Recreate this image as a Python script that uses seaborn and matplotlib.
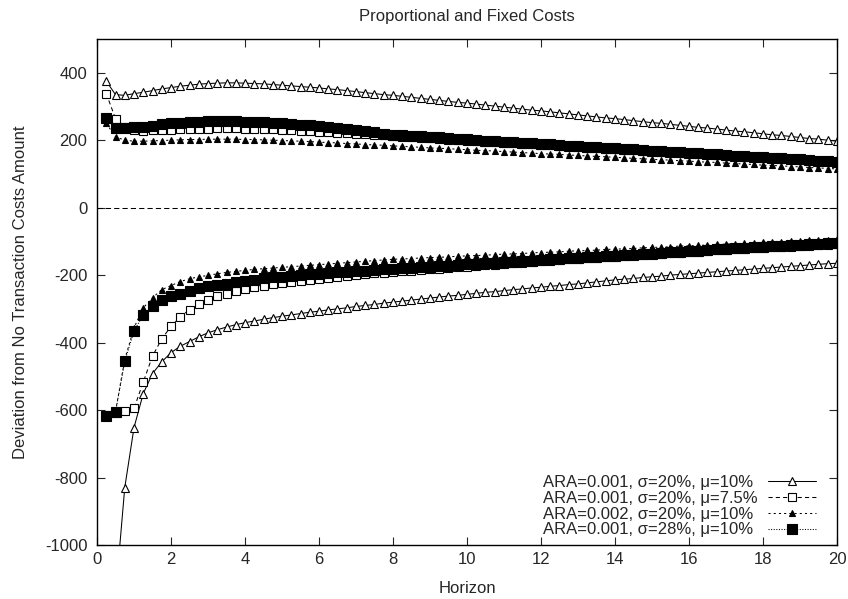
import numpy as np
import pandas as pd
import matplotlib
matplotlib.use("Agg")
import matplotlib.pyplot as plt
import seaborn as sns
from matplotlib.lines import Line2D

# horizon grid (years)
horizon = [0.25, 0.5, 0.75, 1.0, 1.25, 1.5, 1.75, 2.0, 2.25, 2.5, 2.75, 3.0, 3.25, 3.5, 3.75, 4.0,
           4.25, 4.5, 4.75, 5.0, 5.25, 5.5, 5.75, 6.0, 6.25, 6.5, 6.75, 7.0, 7.25, 7.5, 7.75, 8.0,
           8.25, 8.5, 8.75, 9.0, 9.25, 9.5, 9.75, 10.0, 10.25, 10.5, 10.75, 11.0, 11.25, 11.5, 11.75, 12.0,
           12.25, 12.5, 12.75, 13.0, 13.25, 13.5, 13.75, 14.0, 14.25, 14.5, 14.75, 15.0, 15.25, 15.5, 15.75, 16.0,
           16.25, 16.5, 16.75, 17.0, 17.25, 17.5, 17.75, 18.0, 18.25, 18.5, 18.75, 19.0, 19.25, 19.5, 19.75, 20.0]

# ARA=0.001, sigma=20%, mu=10%
upper_1 = [375, 335, 333, 338, 342, 347, 352, 356, 360, 363, 366, 368, 369, 370, 370, 369,
           368, 367, 365, 363, 361, 359, 357, 355, 352, 350, 347, 344, 341, 338, 335, 333,
           330, 327, 324, 321, 318, 315, 312, 310, 307, 304, 301, 298, 295, 292, 289, 287,
           284, 281, 278, 275, 272, 269, 266, 264, 261, 258, 255, 252, 250, 247, 244, 241,
           238, 236, 233, 230, 227, 225, 222, 219, 216, 214, 211, 208, 205, 203, 200, 197]
lower_1 = [-1700, -1150, -830, -652, -551, -492, -457, -430, -411, -397, -383, -371, -362, -354, -347, -341,
           -336, -331, -326, -322, -318, -314, -310, -307, -303, -300, -297, -293, -290, -287, -283, -280,
           -277, -274, -271, -268, -265, -262, -260, -257, -254, -251, -249, -246, -243, -241, -238, -236,
           -233, -231, -228, -226, -223, -220, -217, -214, -212, -210, -207, -205, -203, -200, -198, -196,
           -194, -192, -190, -188, -186, -184, -182, -180, -178, -176, -174, -172, -170, -168, -166, -165]

# ARA=0.001, sigma=20%, mu=7.5%
upper_2 = [338, 264, 240, 229, 228, 229, 230, 231, 232, 233, 234, 234, 235, 235, 235, 234,
           234, 233, 232, 231, 230, 228, 227, 225, 223, 222, 220, 218, 217, 215, 214, 212,
           210, 209, 207, 206, 204, 202, 201, 199, 198, 196, 194, 193, 191, 190, 188, 186,
           185, 183, 182, 180, 178, 177, 175, 174, 172, 170, 169, 167, 166, 164, 162, 161,
           159, 158, 156, 154, 153, 151, 150, 148, 146, 145, 143, 142, 140, 138, 137, 135]
lower_2 = [-615, -608, -602, -595, -517, -440, -389, -352, -324, -302, -285, -273, -263, -255, -248, -241,
           -236, -231, -226, -222, -219, -216, -214, -211, -208, -205, -202, -200, -197, -195, -193, -191,
           -189, -187, -185, -183, -181, -179, -177, -175, -173, -171, -169, -167, -165, -163, -161, -159,
           -157, -155, -153, -152, -150, -148, -146, -145, -143, -141, -140, -138, -136, -135, -133, -132,
           -130, -129, -127, -126, -124, -123, -121, -120, -118, -117, -116, -114, -113, -111, -110, -109]

# ARA=0.002, sigma=20%, mu=10%
upper_3 = [250, 210, 200, 197, 197, 198, 199, 200, 201, 202, 202, 203, 203, 203, 203, 202,
           202, 201, 200, 199, 198, 197, 196, 194, 193, 192, 190, 189, 187, 186, 185, 183,
           182, 180, 179, 177, 176, 175, 173, 172, 170, 169, 168, 166, 165, 163, 162, 160,
           159, 158, 156, 155, 153, 152, 151, 149, 148, 146, 145, 143, 142, 141, 139, 138,
           136, 135, 134, 132, 131, 129, 128, 126, 125, 124, 122, 121, 119, 118, 116, 115]
lower_3 = [-615, -604, -450, -356, -297, -267, -243, -231, -219, -211, -205, -201, -196, -192, -189, -186,
           -183, -181, -179, -177, -175, -173, -171, -169, -167, -165, -163, -161, -159, -157, -155, -153,
           -152, -151, -149, -148, -147, -146, -144, -143, -142, -141, -139, -138, -137, -136, -134, -133,
           -132, -131, -129, -128, -127, -126, -124, -123, -122, -121, -119, -118, -117, -116, -114, -113,
           -112, -111, -109, -108, -107, -106, -104, -103, -102, -101, -99, -98, -97, -96, -95, -94]

# ARA=0.001, sigma=28%, mu=10%
upper_4 = [265, 236, 236, 238, 240, 243, 247, 250, 252, 254, 255, 256, 256, 256, 256, 255,
           254, 253, 251, 250, 248, 246, 244, 242, 239, 236, 232, 229, 226, 223, 219, 216,
           214, 213, 211, 209, 208, 206, 204, 203, 201, 199, 198, 196, 194, 193, 191, 189,
           188, 186, 184, 183, 181, 179, 178, 176, 174, 173, 171, 169, 168, 166, 164, 163,
           161, 159, 158, 156, 154, 153, 151, 149, 148, 146, 144, 143, 141, 139, 138, 136]
lower_4 = [-617, -606, -455, -366, -317, -292, -275, -263, -255, -246, -239, -233, -229, -225, -220, -216,
           -213, -210, -207, -205, -202, -200, -198, -196, -194, -192, -190, -188, -187, -185, -183, -182,
           -180, -178, -177, -175, -173, -172, -170, -168, -167, -165, -163, -162, -160, -158, -157, -155,
           -153, -152, -150, -148, -147, -145, -144, -142, -140, -139, -137, -136, -134, -132, -131, -129,
           -128, -126, -124, -123, -121, -120, -118, -117, -115, -113, -112, -110, -109, -107, -106, -104]

labels = ["ARA=0.001, σ=20%, μ=10%",
          "ARA=0.001, σ=20%, μ=7.5%",
          "ARA=0.002, σ=20%, μ=10%",
          "ARA=0.001, σ=28%, μ=10%"]

sns.set_style("ticks")
plt.rcParams['font.family'] = ['Liberation Sans', 'DejaVu Sans']
plt.rcParams['font.size'] = 12
plt.rcParams['axes.unicode_minus'] = False

fig = plt.figure(figsize=(8.48, 5.99), dpi=100)
ax = fig.add_axes([0.1144, 0.0902, 0.8726, 0.8447])

# marker / dash style per series (gnuplot look)
styles = [
    dict(marker='^', mfc='white', ms=5.8, ls='-'),
    dict(marker='s', mfc='white', ms=5.8, ls=(0, (4, 3))),
    dict(marker='^', mfc='black', ms=5.0, ls=(0, (2, 3))),
    dict(marker='s', mfc='black', ms=6.5, ls=(0, (1, 1.5))),
]
series = [(upper_1, lower_1), (upper_2, lower_2), (upper_3, lower_3), (upper_4, lower_4)]

# zero line
ax.axhline(0, color='black', lw=0.75, ls=(0, (5, 3)), zorder=1)

handles = []
for (up, lo), st, lab in zip(series, styles, labels):
    kw = dict(color='black', lw=0.75, linestyle=st['ls'], marker=st['marker'],
              markersize=st['ms'], markerfacecolor=st['mfc'],
              markeredgecolor='black', markeredgewidth=0.8)
    for branch in (up, lo):
        df = pd.DataFrame({'Horizon': horizon, 'Deviation': branch})
        sns.lineplot(data=df, x='Horizon', y='Deviation', ax=ax, sort=False,
                     estimator=None, legend=False, **kw)
    handles.append(Line2D([0], [0], label=lab, **kw))

ax.set_xlim(0, 20)
ax.set_ylim(-1000, 500)
ax.set_xticks(range(0, 21, 2))
ax.set_yticks(range(-1000, 401, 200))
ax.tick_params(direction='in', top=True, right=True, length=6, width=0.8, labelsize=12)
ax.tick_params(axis='y', pad=7)
ax.tick_params(axis='x', pad=5)
for sp in ax.spines.values():
    sp.set_linewidth(1.0)
    sp.set_color('black')

ax.set_title('Proportional and Fixed Costs', fontsize=12, pad=13)
ax.set_xlabel('Horizon', fontsize=12, labelpad=10)
ax.set_ylabel('Deviation from No Transaction Costs Amount', fontsize=12, labelpad=12)

# gnuplot-style key: text left-aligned, sample on the right.
# legend texts only reserve the space; visible labels are drawn left-aligned.
leg = ax.legend(handles=handles, loc='lower right', bbox_to_anchor=(0.9716, 0.015),
                frameon=False, markerfirst=False, handlelength=2.9, labelspacing=0.05,
                handletextpad=0.6, fontsize=12, borderaxespad=0, borderpad=0)
fig.canvas.draw()
renderer = fig.canvas.get_renderer()
boxes = [t.get_window_extent(renderer) for t in leg.get_texts()]
x_left = min(b.x0 for b in boxes)
for t in leg.get_texts():
    t.set_visible(False)
inv = fig.transFigure.inverted()
for b, lab in zip(boxes, labels):
    fx, fy = inv.transform((x_left, b.y0))
    fig.text(fx, fy, lab, fontsize=12, ha='left', va='bottom')

plt.savefig('out.png', dpi=100)
